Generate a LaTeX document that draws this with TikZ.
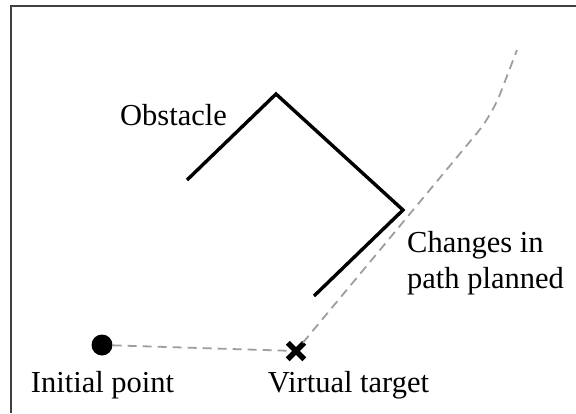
\documentclass[tikz,border=0pt]{standalone}
\usepackage{fontspec}
\setmainfont{Liberation Serif}
\usetikzlibrary{shapes.misc}
\begin{document}
\begin{tikzpicture}[x=1pt,y=-1pt,
  label/.style={inner sep=0pt,font=\fontsize{30.5}{36}\selectfont},
  wall/.style={line width=3.4pt,line join=miter,line cap=butt},
  route/.style={draw=black!38,line width=1.8pt,dash pattern=on 9pt off 6pt},
  frameline/.style={draw=black!75,line width=1.8pt}]
  \useasboundingbox (0,0) rectangle (576,413);
  % partial frame: left and top edges only
  \draw[frameline] (11,413) -- (11,5.6) -- (576,5.6);
  % obstacle
  \draw[wall] (187,180) -- (276,94) -- (403,210) -- (314,296);
  % start point and virtual target
  \node[circle,fill=black,inner sep=0pt,minimum size=21pt] (init) at (102,345) {};
  \node[cross out,draw=black,line width=5.5pt,inner sep=0pt,minimum size=11pt] (vt) at (296,351) {};
  \coordinate (bend) at (492,115);
  \coordinate (pathend) at (517,50);
  % planned route
  \draw[route] (init) -- (vt);
  \draw[route,rounded corners=22pt] (vt) -- (bend) -- (pathend);
  % labels
  \node[label,anchor=base] (obs) at (173.5,125) {Obstacle};
  \node[label,anchor=base] (lip) at (102.5,392) {Initial point};
  \node[label,anchor=base] (lvt) at (348.5,392) {Virtual target};
  \node[label,anchor=base west] (lch) at (407,252) {Changes in};
  \node[label,anchor=base west] (lpp) at (407,288) {path planned};
\end{tikzpicture}
\end{document}
